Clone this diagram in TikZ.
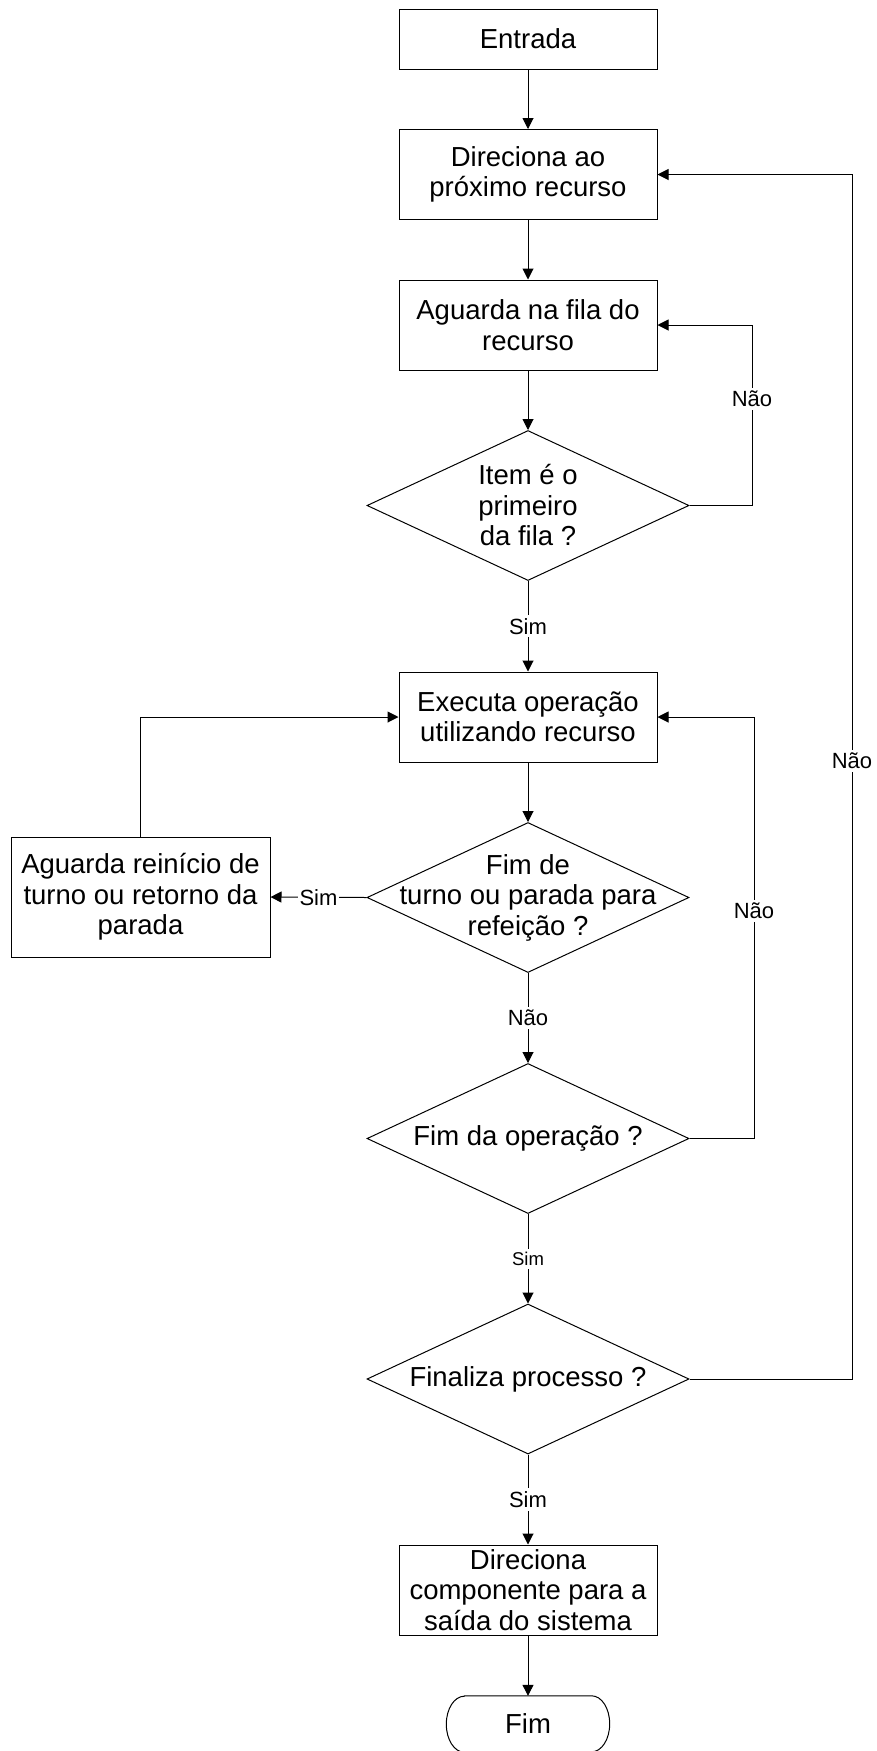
\documentclass[tikz,border=0pt]{standalone}
\usepackage{fontspec}
\setmainfont{Liberation Sans}
\usetikzlibrary{arrows.meta,shapes.geometric}

\newcommand\mainsz{\fontsize{27.5}{30.5}\selectfont}
\newcommand\lblsz{\fontsize{22}{24}\selectfont}
\newcommand\smallsz{\fontsize{18.5}{20}\selectfont}

\tikzset{
  base/.style={draw=black, line width=1pt},
  proc/.style={base, rectangle, minimum width=258pt, minimum height=90pt,
               inner sep=0pt, align=center, font=\mainsz},
  dec/.style={base, diamond, minimum width=322pt, minimum height=150pt, inner sep=0pt},
  dectext/.style={align=center, font=\mainsz, inner sep=0pt},
  arr/.style={line width=1pt, -{Triangle[length=11pt,width=11pt]}},
  lbl/.style={fill=white, inner sep=3pt, font=\lblsz},
  lblsmall/.style={fill=white, inner sep=3pt, font=\smallsz},
}

\begin{document}
\begin{tikzpicture}[x=1pt, y=1pt]
  \path[fill=white, use as bounding box] (0,0) rectangle (877,-1751);

  % main column
  \node[proc, minimum height=60pt] (ent) at (528,-39) {Entrada};
  \node[proc] (dir) at (528,-174.5) {Direciona ao\\próximo recurso};
  \node[proc] (agu) at (528,-325) {Aguarda na fila do\\recurso};
  \node[dec, label={[dectext]center:Item é o\\primeiro\\da fila ?}] (d1) at (528,-505.5) {};
  \node[proc] (exe) at (528,-717) {Executa operação\\utilizando recurso};
  \node[dec, label={[dectext]center:Fim de\\turno ou parada para\\refeição ?}] (d2) at (528,-897.5) {};
  \node[proc, minimum width=259pt, minimum height=120pt] (wait) at (140.5,-897)
       {Aguarda reinício de\\turno ou retorno da\\parada};
  \node[dec, label={[dectext]center:Fim da operação ?}] (d3) at (528,-1138.5) {};
  \node[dec, label={[dectext]center:Finaliza processo ?}] (d4) at (528,-1379) {};
  \node[proc] (out) at (528,-1590) {Direciona\\componente para a\\saída do sistema};
  \node[rectangle, minimum width=163pt, minimum height=56pt, inner sep=0pt,
        font=\mainsz] (fim) at (528,-1724) {Fim};
  % terminator outline with elliptic ends
  \draw[base] ([xshift=18pt]fim.north west) -- ([xshift=-18pt]fim.north east)
      arc[start angle=90, end angle=-90, x radius=18pt, y radius=28pt]
      -- ([xshift=18pt]fim.south west)
      arc[start angle=270, end angle=90, x radius=18pt, y radius=28pt] -- cycle;

  % loop corners
  \coordinate (c1) at (752,-505.5);
  \coordinate (c3) at (754,-1138.5);
  \coordinate (c4) at (852,-1379);

  % connectors
  \draw[arr] (ent) -- (dir);
  \draw[arr] (dir) -- (agu);
  \draw[arr] (agu) -- (d1.north);
  \draw[arr] (d1.south) -- node[lbl]{Sim} (exe);
  \draw[arr] (d1.east) -- (c1) |- node[lbl, pos=0.295]{Não} (agu.east);
  \draw[arr] (exe) -- (d2.north);
  \draw[arr] (d2.west) -- node[lbl, inner xsep=2pt]{Sim} (wait.east);
  \draw[arr] (wait.north) |- (exe.west);
  \draw[arr] (d2.south) -- node[lbl]{Não} (d3.north);
  \draw[arr] (d3.east) -- (c3) |- node[lbl, pos=0.27]{Não} (exe.east);
  \draw[arr] (d3.south) -- node[lblsmall]{Sim} (d4.north);
  \draw[arr] (d4.east) -- (c4) |- node[lbl, pos=0.2566]{Não} (dir.east);
  \draw[arr] (d4.south) -- node[lbl]{Sim} (out);
  \draw[arr] (out) -- (fim.north);
\end{tikzpicture}
\end{document}
